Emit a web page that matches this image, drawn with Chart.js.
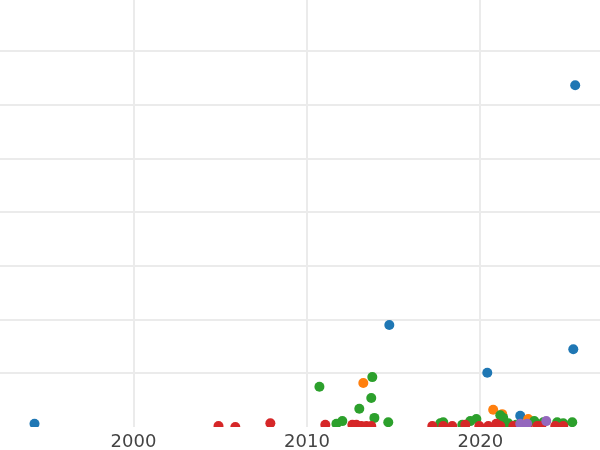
<!DOCTYPE html>
<html>
<head>
<meta charset="utf-8">
<script src="https://cdn.jsdelivr.net/npm/chart.js@4/dist/chart.umd.min.js"></script>
<style>
  body { margin: 0; background: #fff; }
  canvas { display: block; }
</style>
</head>
<body>
<canvas id="chart" width="600" height="450"></canvas>
<script>
// values: [year, value]
var blue = [[1994.29, 0.06], [2014.75, 1.90], [2025.47, 6.37], [2025.36, 1.45], [2020.40, 1.01], [2022.30, 0.21]];
var orange = [[2013.25, 0.82], [2020.74, 0.32], [2021.26, 0.24], [2022.76, 0.15]];
var green = [[2010.72, 0.75], [2013.77, 0.93], [2013.71, 0.54], [2013.02, 0.34], [2013.89, 0.17], [2014.69, 0.09],
    [2012.04, 0.11], [2011.70, 0.06], [2017.69, 0.07], [2017.86, 0.09], [2018.96, 0.04], [2019.42, 0.11],
    [2019.77, 0.15], [2021.15, 0.22], [2021.32, 0.17], [2021.61, 0.07], [2022.07, 0.04], [2023.11, 0.11],
    [2023.63, 0.09], [2024.43, 0.09], [2024.78, 0.07], [2025.30, 0.09]];
var red = [[2004.90, 0.02], [2005.87, 0.0], [2007.89, 0.07], [2011.06, 0.04], [2012.62, 0.04], [2012.85, 0.04],
    [2013.14, 0.02], [2013.43, 0.02], [2013.71, 0.02], [2017.23, 0.02], [2017.86, 0.02], [2018.38, 0.02],
    [2019.13, 0.04], [2019.94, 0.02], [2020.46, 0.02], [2020.92, 0.06], [2021.15, 0.02], [2021.90, 0.02],
    [2022.70, 0.02], [2023.28, 0.02], [2023.51, 0.02], [2024.32, 0.02], [2024.78, 0.02]];
var purple = [[2022.30, 0.06], [2022.70, 0.06], [2023.80, 0.11]];

var xTicks = [2000, 2010, 2020];

function toPoints(arr) {
    return arr.map(function (p) { return { x: p[0], y: p[1] }; });
}

function series(arr, color, order) {
    return {
        data: toPoints(arr),
        backgroundColor: color,
        borderWidth: 0,
        pointRadius: 5,
        order: order
    };
}

var ctx = document.getElementById('chart');

var chart = new Chart(ctx, {
    type: 'scatter',
    data: {
        datasets: [
            series(blue, '#1f77b4', 5),
            series(orange, '#ff7f0e', 4),
            series(green, '#2ca02c', 3),
            series(red, '#d62728', 2),
            series(purple, '#9467bd', 1)
        ]
    },
    options: {
        responsive: false,
        animation: false,
        layout: { padding: 0, autoPadding: false },
        plugins: { legend: { display: false }, tooltip: { enabled: false } },
        scales: {
            x: {
                type: 'linear',
                min: 1992.3,
                max: 2026.9,
                afterFit: function (scale) { scale.height = 23; },
                afterBuildTicks: function (scale) {
                    scale.ticks = xTicks.map(function (v) { return { value: v }; });
                },
                grid: { color: '#ebebeb', lineWidth: 2, drawTicks: false },
                border: { display: false },
                ticks: {
                    padding: 5,
                    color: '#444',
                    font: { family: 'DejaVu Sans', size: 18 },
                    callback: function (v) { return String(v); }
                }
            },
            y: {
                min: 0,
                max: 7.96,
                grid: {
                    drawTicks: false,
                    lineWidth: 2,
                    color: function (c) { return c.tick && c.tick.value === 0 ? 'rgba(0,0,0,0)' : '#ebebeb'; }
                },
                border: { display: false },
                ticks: { display: false, stepSize: 1, includeBounds: false }
            }
        }
    }
});
</script>
</body>
</html>
